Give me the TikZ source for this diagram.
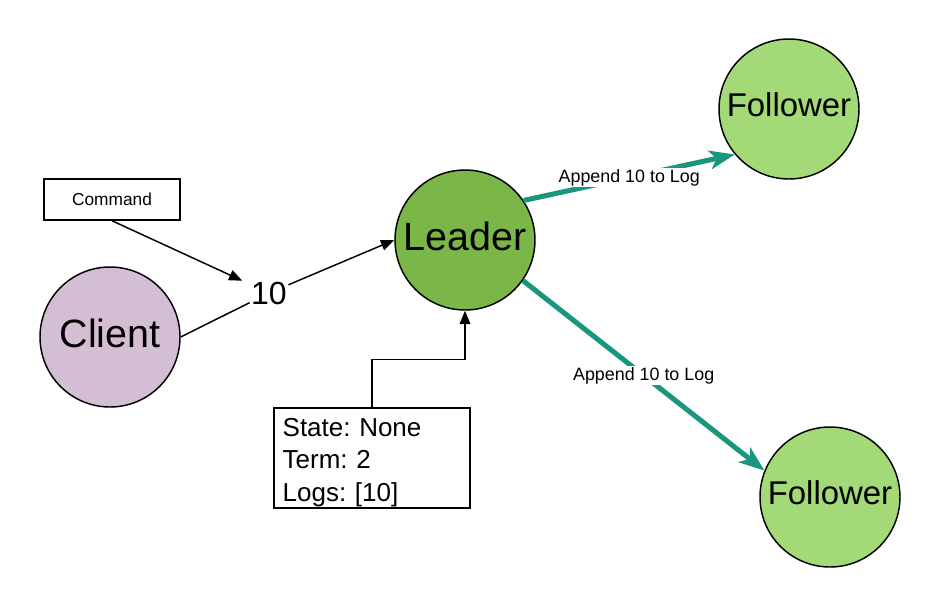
\documentclass[tikz,border=0pt]{standalone}
\usepackage{fontspec}
\setmainfont{Liberation Sans}
\usetikzlibrary{arrows.meta}
\definecolor{clientc}{HTML}{D4BED4}
\definecolor{leaderc}{HTML}{7AB648}
\definecolor{followc}{HTML}{A3D977}
\definecolor{tealc}{HTML}{19967D}
\frenchspacing
\begin{document}
\begin{tikzpicture}[x=0.75pt,y=-0.75pt,
  circ/.style={circle,draw=black,line width=1.1pt,minimum size=105pt,inner sep=0pt,text depth=6pt},
  bigfont/.style={font=\fontsize{29.6}{32}\selectfont},
  folfont/.style={font=\fontsize{24.7}{28}\selectfont},
  boxstyle/.style={draw=black,line width=1.1pt,fill=white},
  blk/.style={draw=black,line width=1.1pt},
  blkarrow/.style={blk,-{Triangle[length=10pt,width=8pt]}},
  tealarrow/.style={draw=tealc,line width=3.8pt,-{Stealth[length=19pt,width=14pt,inset=5pt]}},
  lbl/.style={fill=white,inner sep=1pt,font=\fontsize{13.4}{15}\selectfont}]
\useasboundingbox (0,0) rectangle (940,608);
\node[circ,fill=clientc,bigfont] (client) at (110,337) {Client};
\node[circ,fill=leaderc,bigfont] (leader) at (465,240) {Leader};
\node[circ,fill=followc,folfont] (f1) at (789,109) {Follower};
\node[circ,fill=followc,folfont] (f2) at (830,497) {Follower};
\node[boxstyle,minimum width=102pt,minimum height=30.75pt,inner sep=0pt,
      font=\fontsize{13}{15}\selectfont] (cmd) at (112,199.5) {Command};
\node[fill=white,inner sep=1pt,font=\fontsize{24}{26}\selectfont] (ten) at (269,293) {10};
\node[boxstyle,minimum width=147pt,minimum height=75pt,text width=134pt,align=left,
      inner xsep=6.5pt,inner ysep=0pt,font=\fontsize{19.5}{24.4}\selectfont] (state) at (372,458)
      {\rule{0pt}{20pt}State: None\\Term: 2\\Logs: [10]};
\draw[blk] (client.east) -- (ten);
\draw[blkarrow] (ten) -- (leader.west);
\draw[blkarrow,shorten >=6pt] (cmd.south) -- (ten);
\draw[blkarrow] (state.north) -- ++(0,-48) -| (leader.south);
\draw[tealarrow] (leader.34) -- node[lbl] {Append 10 to Log} (f1.220);
\draw[tealarrow] (leader.-35) -- node[lbl] {Append 10 to Log} (f2.158);
\end{tikzpicture}
\end{document}
